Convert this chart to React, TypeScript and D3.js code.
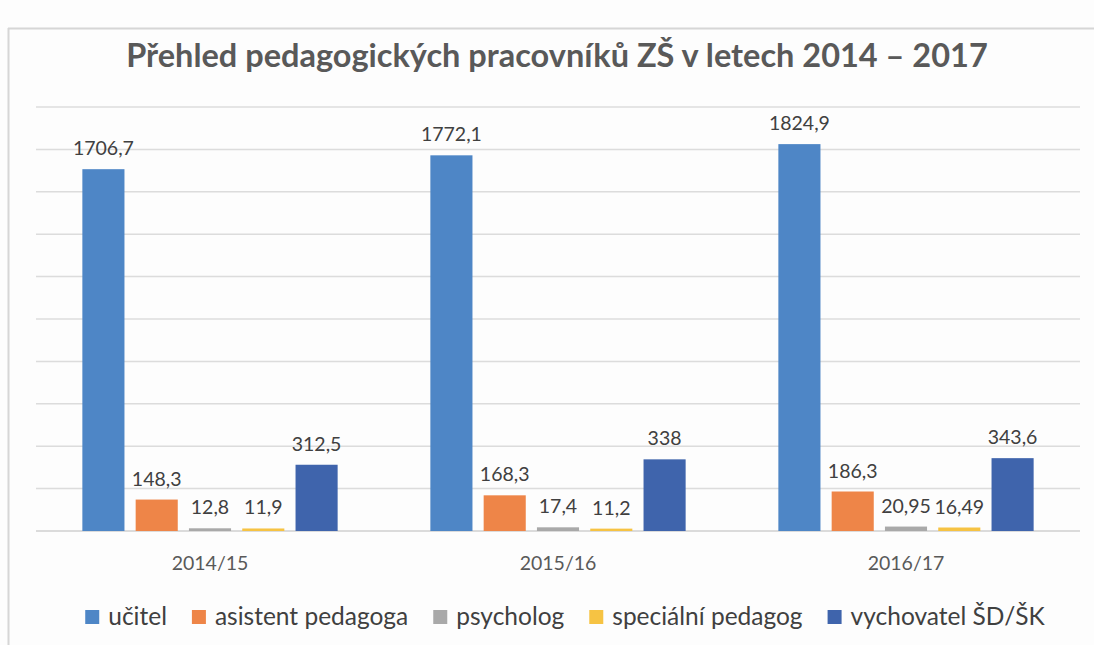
import React from 'react';
import * as d3 from 'd3';

const categories = ['2014/15', '2015/16', '2016/17'];
const series = ['učitel', 'asistent pedagoga', 'psycholog', 'speciální pedagog', 'vychovatel ŠD/ŠK'];
const colors = ['#4e86c6', '#ee8548', '#a9a9a9', '#f6c343', '#3f64ac'];
// values[series][category]
const values = [
  [1706.7, 1772.1, 1824.9],
  [148.3, 168.3, 186.3],
  [12.8, 17.4, 20.95],
  [11.9, 11.2, 16.49],
  [312.5, 338, 343.6],
];
const yTicks = d3.range(0, 2001, 200);

const W = 1094;
const H = 645;
const FONT = 'Lato, "Open Sans", sans-serif';

const fmt = (v: number) => String(v).replace('.', ',');

const measure = (() => {
  const ctx = typeof document !== 'undefined' ? document.createElement('canvas').getContext('2d') : null;
  return (text: string, font: string) => {
    if (!ctx) return text.length * 10;
    ctx.font = font;
    return ctx.measureText(text).width;
  };
})();

export default function App() {
  const margin = { left: 36, right: 14, top: 107, bottom: 114 };
  const x0 = d3.scaleBand().domain(categories).range([margin.left, W - margin.right]);
  const x1 = d3
    .scaleBand()
    .domain(series)
    .range([0, x0.bandwidth()])
    .paddingInner(0.21)
    .paddingOuter(0.87);
  const y = d3.scaleLinear().domain([0, 2000]).range([H - margin.bottom, margin.top]);

  // legend layout
  const legendSize = 24.5;
  const legendFont = `${legendSize}px ${FONT}`;
  const sq = 14;
  const sqGap = 9;
  const itemGap = 25;
  const widths = series.map((s) => sq + sqGap + measure(s, legendFont));
  const total = d3.sum(widths) + itemGap * (series.length - 1);
  const legendCenterX = 565;
  let cursor = legendCenterX - total / 2;
  const legendItems = series.map((s, i) => {
    const item = { name: s, x: cursor, color: colors[i] };
    cursor += widths[i] + itemGap;
    return item;
  });

  return (
    <svg
      width={W}
      height={H}
      style={{ position: 'absolute', left: 0, top: 0, background: '#fdfdfd', fontFamily: FONT }}
    >
      {/* chart frame */}
      <line x1={8.5} x2={8.5} y1={28} y2={H} stroke="#d6d6d6" strokeWidth={2} />
      <line x1={8} x2={W} y1={28.5} y2={28.5} stroke="#d6d6d6" strokeWidth={2} />

      <text x={557} y={67} textAnchor="middle" fontSize={32.5} fontWeight="bold" fill="#595959">
        Přehled pedagogických pracovníků ZŠ v letech 2014 – 2017
      </text>

      {/* gridlines */}
      {yTicks.map((t) => (
        <line
          key={t}
          x1={margin.left}
          x2={W - margin.right}
          y1={y(t)}
          y2={y(t)}
          stroke={t === 0 ? '#cfcfcf' : '#dcdcdc'}
          strokeWidth={1.5}
        />
      ))}

      {/* bars */}
      {categories.map((c, ci) => (
        <g key={c} transform={`translate(${x0(c)},0)`}>
          {series.map((s, si) => {
            const v = values[si][ci];
            const bx = x1(s)!;
            return (
              <g key={s}>
                <rect
                  x={bx}
                  y={y(v)}
                  width={x1.bandwidth()}
                  height={y(0) - y(v)}
                  fill={colors[si]}
                />
                <text
                  x={bx + x1.bandwidth() / 2}
                  y={y(v) - 14}
                  textAnchor="middle"
                  fontSize={19.5}
                  fill="#404040"
                >
                  {fmt(v)}
                </text>
              </g>
            );
          })}
          <text
            x={x0.bandwidth() / 2}
            y={570}
            textAnchor="middle"
            fontSize={19.5}
            fill="#595959"
          >
            {c}
          </text>
        </g>
      ))}

      {/* legend */}
      {legendItems.map((it) => (
        <g key={it.name} transform={`translate(${it.x},0)`}>
          <rect x={0} y={610} width={sq} height={sq} fill={it.color} />
          <text x={sq + sqGap} y={625} fontSize={legendSize} fill="#404040">
            {it.name}
          </text>
        </g>
      ))}
    </svg>
  );
}
